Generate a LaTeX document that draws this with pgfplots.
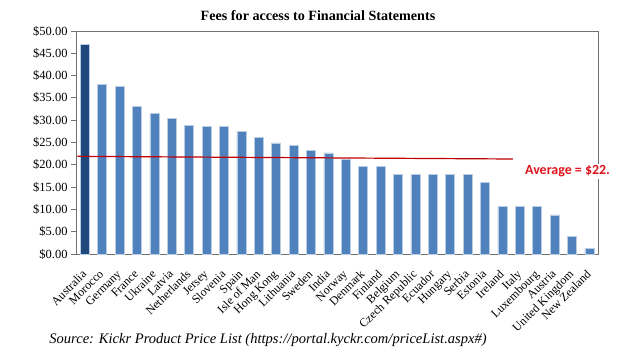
\documentclass[border=0pt]{standalone}
\usepackage{pgfplots}
\pgfplotsset{compat=1.18}
\usepackage{fontspec}
\setmainfont{Liberation Serif}
\newfontfamily\calib{Carlito}
\definecolor{barblue}{HTML}{4F81BD}
\definecolor{bardark}{HTML}{1F497D}
\definecolor{baredge}{HTML}{B9CDE5}
\definecolor{avgred}{HTML}{C00000}
\definecolor{labred}{HTML}{E0141C}
\definecolor{framegray}{HTML}{707070}
\begin{document}
\begin{tikzpicture}[x=1bp,y=1bp]
\useasboundingbox (0,0) rectangle (640,360);
\node[font=\fontsize{14.2}{16}\selectfont\bfseries] at (318,344) {Fees for access to Financial Statements};
\node[font=\fontsize{14.6}{16}\selectfont\itshape] at (268,20) {Source: Kickr Product Price List (https://portal.kyckr.com/priceList.aspx\#)};
\begin{axis}[
  at={(76bp,106bp)}, anchor=south west,
  width=522bp, height=223bp, scale only axis,
  xmin=-0.5, xmax=29.5, ymin=0, ymax=50,
  axis line style={framegray, line width=0.9pt},
  ytick={0,5,...,50},
  yticklabel={\$\pgfmathprintnumber[fixed,fixed zerofill,precision=2]{\tick}},
  /pgf/number format/assume math mode=true,
  yticklabel style={font=\fontsize{12.5}{14}\selectfont, text=black},
  ytick style={framegray, line width=0.9pt},
  tick align=outside, ytick pos=left,
  major tick length=5bp,
  xtick={0,...,29},
  xtick style={draw=none},
  xticklabels={Australia,Morocco,Germany,France,Ukraine,Latvia,Netherlands,Jersey,Slovenia,Spain,Isle of Man,Hong Kong,Lithuania,Sweden,India,Norway,Denmark,Finland,Belgium,Czech Republic,Ecuador,Hungary,Serbia,Estonia,Ireland,Italy,Luxembourg,Austria,United Kingdom,New Zealand},
  xticklabel style={yshift=-10bp, xshift=-3.5bp, rotate=45, anchor=north east, font=\fontsize{12}{13}\selectfont, inner sep=0pt},
  clip=false,
]
\addplot[ybar, bar width=9bp, fill=bardark, draw=baredge, line width=0.5pt] coordinates {(0,47.0)};
\addplot[ybar, bar width=9bp, fill=barblue, draw=baredge, line width=0.5pt] coordinates {
(1,38.0) (2,37.6) (3,33.1) (4,31.5) (5,30.4) (6,28.9) (7,28.6) (8,28.6) (9,27.5)
(10,26.2) (11,24.9) (12,24.4) (13,23.2) (14,22.7) (15,21.3) (16,19.6) (17,19.6)
(18,17.9) (19,17.9) (20,17.9) (21,17.9) (22,17.9) (23,16.0) (24,10.6) (25,10.6)
(26,10.6) (27,8.8) (28,4.0) (29,1.3)};
\addplot[avgred, line width=1.2pt] coordinates {(-0.42,21.9) (24.6,21.3)};
\node[fill=white, text=labred, font=\calib\fontsize{14}{16}\selectfont\bfseries, inner sep=1.5pt] at (axis cs:27.75,18.5) {Average = \$22.};
\end{axis}
\end{tikzpicture}
\end{document}
